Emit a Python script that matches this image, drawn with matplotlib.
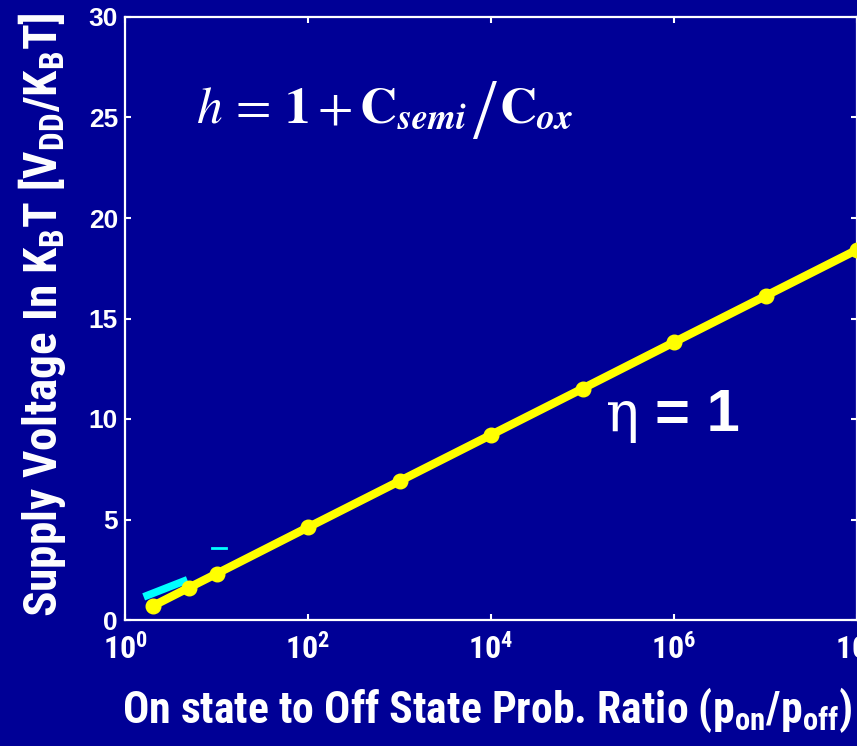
import matplotlib
matplotlib.use('Agg')
import matplotlib.pyplot as plt
from matplotlib import font_manager

# supply voltage (in kT units) needed for a given on/off probability ratio
ratio = [2, 5, 10, 1e2, 1e3, 1e4, 1e5, 1e6, 1e7, 1e8]
vdd_kt = [0.69, 1.61, 2.30, 4.61, 6.91, 9.21, 11.51, 13.82, 16.12, 18.42]

# stray cyan traces near the low-ratio end
cyan_x = [1.6, 4.8]
cyan_y = [1.15, 2.0]
dash_x = [8.9, 12.7]
dash_y = [3.58, 3.58]

xticks = [1e0, 1e2, 1e4, 1e6, 1e8]
xticklabels = [r'$\mathbf{10^{0}}$', r'$\mathbf{10^{2}}$', r'$\mathbf{10^{4}}$',
               r'$\mathbf{10^{6}}$', r'$\mathbf{10^{8}}$']
yticks = [0, 5, 10, 15, 20, 25, 30]

bg = '#000096'

names = {f.name for f in font_manager.fontManager.ttflist}
narrow = next((n for n in ['Liberation Sans Narrow', 'Roboto Condensed',
                           'Open Sans Condensed'] if n in names), 'Liberation Sans')

plt.rcParams['font.family'] = ['Liberation Sans', 'DejaVu Sans']
plt.rcParams['mathtext.fontset'] = 'custom'
plt.rcParams['mathtext.rm'] = narrow + ':bold'
plt.rcParams['mathtext.it'] = narrow + ':bold'
plt.rcParams['mathtext.bf'] = narrow + ':bold'

fig = plt.figure(figsize=(8.57, 7.46), dpi=100, facecolor=bg)
ax = fig.add_axes([125 / 857, 126 / 746, 1 - 125 / 857, 603 / 746])
ax.set_facecolor(bg)

ax.plot(cyan_x, cyan_y, color='#00ffff', lw=5.5, solid_capstyle='butt', zorder=2)
ax.plot(dash_x, dash_y, color='#00ffff', lw=2, zorder=2)
ax.plot(ratio, vdd_kt, color='#ffff00', lw=6, marker='o', ms=10.5,
        clip_on=False, zorder=3)

ax.set_xscale('log')
ax.set_xlim(1, 1e8)
ax.set_ylim(0, 30)
ax.set_xticks(xticks)
ax.set_xticklabels(xticklabels)
ax.xaxis.set_minor_locator(matplotlib.ticker.NullLocator())
ax.set_yticks(yticks)
for lab in ax.get_yticklabels():
    lab.set_fontsize(19)
    lab.set_fontweight('bold')
for lab in ax.get_xticklabels():
    lab.set_fontsize(23)

ax.tick_params(which='both', direction='in', top=True, right=True,
               colors='white', length=4, width=1.5)
ax.tick_params(axis='x', pad=10)
ax.tick_params(axis='y', pad=5)
for sp in ax.spines.values():
    sp.set_color('white')
    sp.set_linewidth(1.6)

# gate-coupling formula, built in three pieces so the slash can be tall
base_y = 1 - 123 / 746
eq_left = fig.text(196 / 857, base_y,
                   r'$h\,=\,\mathbf{1} + \mathbf{C}_{\mathbfit{semi}}$',
                   color='white', fontsize=37, math_fontfamily='stix',
                   va='baseline')
eq_slash = fig.text(0, 1 - 138 / 746, '/', color='white', fontsize=62,
                    family='Liberation Serif', va='baseline')
eq_right = fig.text(0, base_y, r'$\mathbf{C}_{\mathbfit{ox}}$',
                    color='white', fontsize=37, math_fontfamily='stix',
                    va='baseline')

# eta in an upright serif, the rest in bold sans
fig.text(606 / 857, 1 - 431 / 746, '\u03b7', color='white', fontsize=40,
         family='DejaVu Serif', va='baseline')
fig.text(655 / 857, 1 - 431 / 746, '= 1', color='white', fontsize=43,
         fontweight='bold', va='baseline')

xl = fig.text(487 / 857, 1 - 723 / 746,
              r'On state to Off State Prob. Ratio (p$_{on}$/p$_{off}$)',
              color='white', family=narrow, fontweight='bold', fontsize=30,
              ha='center', va='baseline')
yl = fig.text(42 / 857, 1 - 315 / 746,
              r'Supply Voltage In K$_{B}$T [V$_{DD}$/K$_{B}$T]',
              color='white', family=narrow, fontweight='bold', fontsize=30,
              rotation=90, ha='center', va='center', rotation_mode='anchor')

# shrink the long axis titles until they span the same run as the axes,
# and chain the formula pieces one after the other
fig.canvas.draw()
r = fig.canvas.get_renderer()
w = xl.get_window_extent(r).width
xl.set_fontsize(30 * 730 / w)
h = yl.get_window_extent(r).height
yl.set_fontsize(30 * 605 / h)

x_end = eq_left.get_window_extent(r).x1
eq_slash.set_x((x_end + 6) / 857)
fig.canvas.draw()
x_end = eq_slash.get_window_extent(r).x1
eq_right.set_x((x_end + 2) / 857)

fig.savefig('out.png', dpi=100, facecolor=bg)
